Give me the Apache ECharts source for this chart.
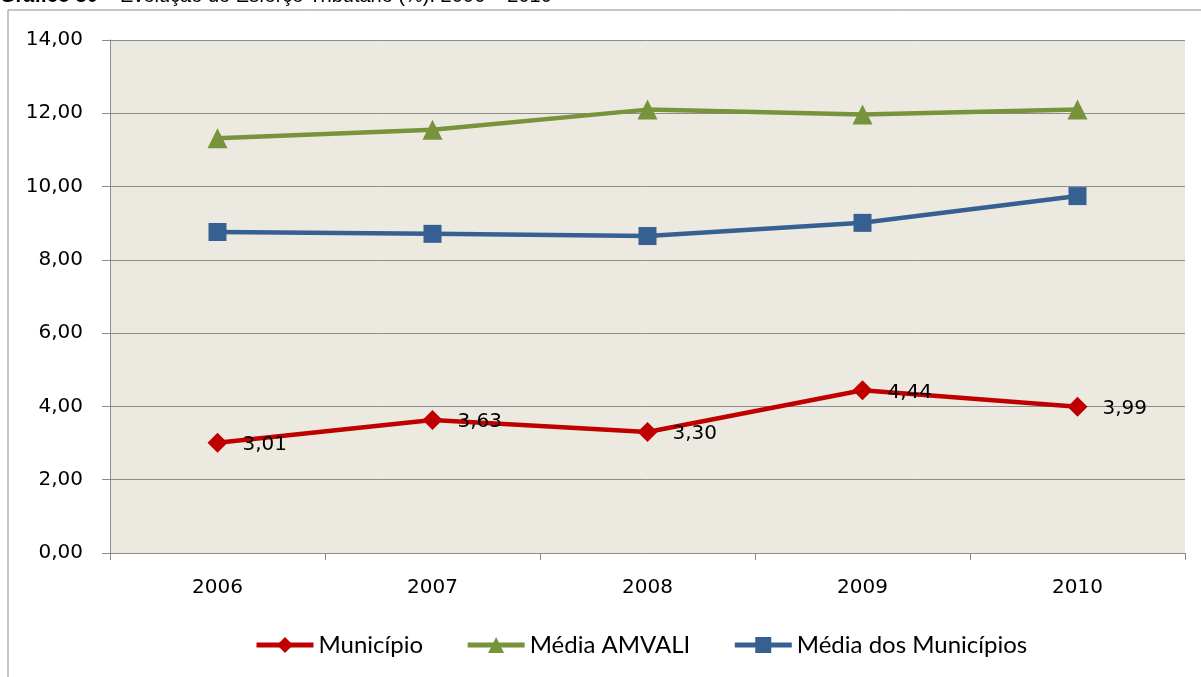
<!DOCTYPE html>
<html>
<head>
<meta charset="utf-8">
<script src="https://cdn.jsdelivr.net/npm/echarts@6/dist/echarts.min.js"></script>
<style>
  html, body { margin: 0; padding: 0; background: #fff; }
  #chart { width: 1201px; height: 677px; }
</style>
</head>
<body>
<div id="chart"></div>
<script>
const years = ['2006', '2007', '2008', '2009', '2010'];
const municipio = [3.01, 3.63, 3.30, 4.44, 3.99];
const mediaAmvali = [11.32, 11.55, 12.10, 11.97, 12.10];
const mediaMunicipios = [8.76, 8.71, 8.65, 9.01, 9.74];

const fmt = v => v.toFixed(2).replace('.', ',');

const myChart = echarts.init(document.getElementById('chart'));

const option = {
  animation: false,
  graphic: [
    {
      type: 'rect',
      shape: { x: 8, y: 10, width: 1220, height: 700 },
      style: { fill: 'none', stroke: '#8c8c8c', lineWidth: 1 }
    },
    {
      type: 'text',
      left: 0,
      top: -14,
      style: {
        text: '{b|Gráfico 30} – Evolução do Esforço Tributário (%): 2006 – 2010',
        font: '20px "Liberation Sans"',
        fill: '#000',
        rich: { b: { fontWeight: 'bold', fontSize: 20, fontFamily: 'Liberation Sans' } }
      }
    }
  ],
  grid: {
    left: 110, right: 16, top: 40, bottom: 124,
    show: true, backgroundColor: '#ECEAE0', borderWidth: 0
  },
  legend: {
    bottom: 15,
    left: 249,
    itemWidth: 57,
    itemHeight: 20,
    itemGap: 42,
    lineStyle: { width: 5 },
    textStyle: { fontFamily: 'Lato', fontSize: 24, color: '#000' },
    data: ['Município', 'Média AMVALI', 'Média dos Municípios']
  },
  xAxis: {
    type: 'category',
    data: years,
    boundaryGap: true,
    axisLine: { lineStyle: { color: '#8c8c8c', width: 1 } },
    axisTick: { show: true, length: 7, lineStyle: { color: '#8c8c8c' } },
    axisLabel: { fontFamily: 'DejaVu Sans', fontSize: 20, color: '#000', margin: 25 }
  },
  yAxis: {
    type: 'value',
    min: 0, max: 14, interval: 2,
    axisLine: { show: true, lineStyle: { color: '#8c8c8c', width: 1 } },
    axisTick: { show: true, length: 8, lineStyle: { color: '#8c8c8c' } },
    splitLine: { lineStyle: { color: '#8c8c8c', width: 1 } },
    axisLabel: { fontFamily: 'DejaVu Sans', fontSize: 20, color: '#000', margin: 27, formatter: fmt }
  },
  series: [
    {
      name: 'Município',
      type: 'line',
      data: municipio,
      symbol: 'diamond',
      symbolSize: 20,
      lineStyle: { width: 4.5, color: '#C00000' },
      itemStyle: { color: '#C00000' },
      label: {
        show: true, position: 'right', distance: 15, offset: [0, 2],
        fontFamily: 'DejaVu Sans', fontSize: 20, color: '#000',
        formatter: p => fmt(p.value)
      }
    },
    {
      name: 'Média AMVALI',
      type: 'line',
      data: mediaAmvali,
      symbol: 'triangle',
      symbolSize: 20,
      lineStyle: { width: 4.5, color: '#77933C' },
      itemStyle: { color: '#77933C' }
    },
    {
      name: 'Média dos Municípios',
      type: 'line',
      data: mediaMunicipios,
      symbol: 'rect',
      symbolSize: 18,
      lineStyle: { width: 4.5, color: '#376092' },
      itemStyle: { color: '#376092' }
    }
  ]
};

myChart.setOption(option);
</script>
</body>
</html>
